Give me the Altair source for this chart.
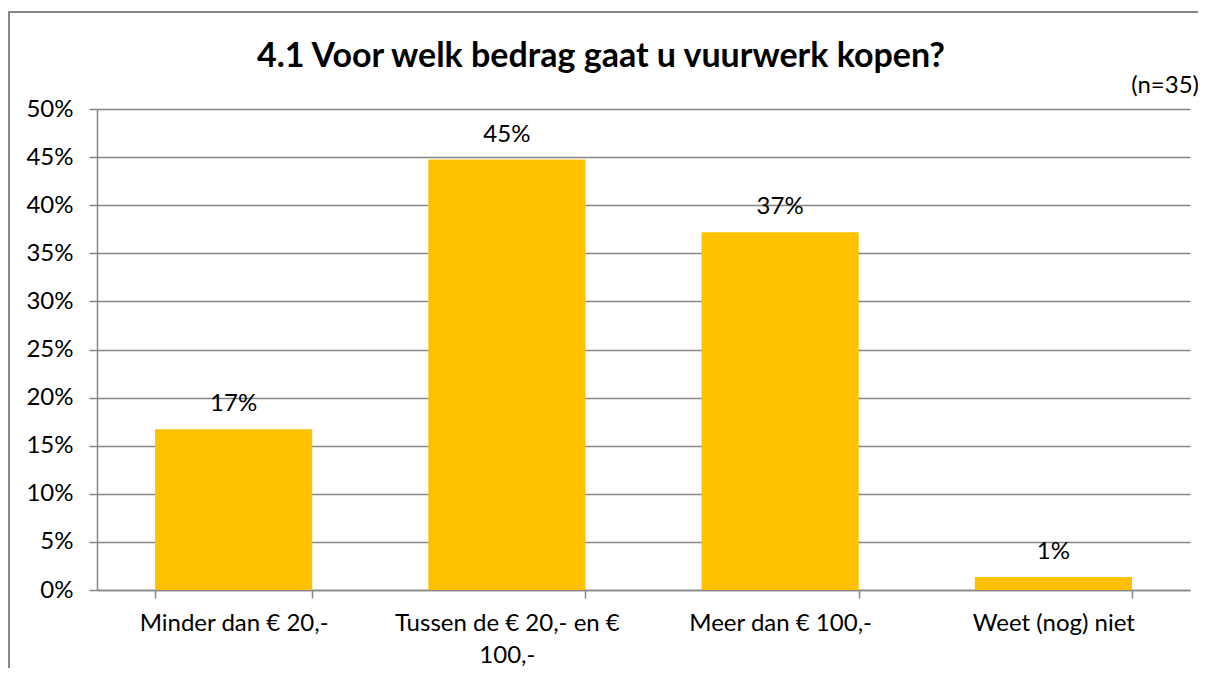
import altair as alt
import pandas as pd

categories = ["Minder dan € 20,-", "Tussen de € 20,- en € 100,-", "Meer dan € 100,-", "Weet (nog) niet"]
values = [0.167, 0.4475, 0.372, 0.0135]
y_ticks = [0, 0.05, 0.10, 0.15, 0.20, 0.25, 0.30, 0.35, 0.40, 0.45, 0.50]
title_text = "4.1 Voor welk bedrag gaat u vuurwerk kopen?"
note_text = "(n=35)"

df = pd.DataFrame({"cat": categories, "val": values})

FONT = "Lato"
GRAY = "#868686"
BAR = "#FFC000"
FS = 24

x_enc = alt.X(
    "cat:N",
    sort=categories,
    title=None,
    scale=alt.Scale(paddingInner=0.425, paddingOuter=0.2125),
    axis=alt.Axis(
        labelAngle=0,
        labelFont=FONT,
        labelFontSize=FS,
        labelColor="#000000",
        labelPadding=13,
        labelLineHeight=32,
        labelLimit=400,
        labelExpr="datum.label == 'Tussen de € 20,- en € 100,-' ? ['Tussen de € 20,- en €', '100,-'] : datum.label",
        tickBand="extent",
        tickSize=8,
        tickColor=GRAY,
        tickWidth=1.5,
        domainColor=GRAY,
        domainWidth=1.5,
        grid=False,
    ),
)

y_enc = alt.Y(
    "val:Q",
    title=None,
    scale=alt.Scale(domain=[0, 0.5], nice=False),
    axis=alt.Axis(
        values=y_ticks,
        format=".0%",
        labelFont=FONT,
        labelFontSize=FS,
        labelColor="#000000",
        labelPadding=16,
        tickSize=8,
        tickColor=GRAY,
        tickWidth=1.5,
        domainColor=GRAY,
        domainWidth=1.5,
        grid=True,
        gridColor=GRAY,
        gridWidth=1.5,
    ),
)

base = alt.Chart(df)

bars = base.mark_bar(color=BAR).encode(x=x_enc, y=y_enc)

labels = base.mark_text(
    font=FONT, fontSize=FS, color="#000000", baseline="alphabetic", dy=-18
).encode(
    x=alt.X("cat:N", sort=categories),
    y="val:Q",
    text=alt.Text("val:Q", format=".0%"),
)

title_df = pd.DataFrame({"t": [title_text]})
title_mark = alt.Chart(title_df).mark_text(
    font=FONT, fontSize=34, fontWeight="bold", color="#000000",
    align="center", baseline="middle"
).encode(x=alt.value(504), y=alt.value(-52), text="t:N")

note_df = pd.DataFrame({"t": [note_text]})
note_mark = alt.Chart(note_df).mark_text(
    font=FONT, fontSize=FS, color="#000000", align="right", baseline="middle"
).encode(x=alt.value(1102), y=alt.value(-23), text="t:N")

frame = alt.Chart(title_df).mark_rect(
    fill=None, stroke=GRAY, strokeWidth=2, clip=False
).encode(
    x=alt.value(-88), x2=alt.value(1130), y=alt.value(-97), y2=alt.value(640)
)

chart = alt.layer(frame, bars, labels, title_mark, note_mark).properties(
    width=1093,
    height=481,
    autosize=alt.AutoSizeParams(type="none"),
    padding={"left": 89, "top": 101, "right": 8, "bottom": 78},
    background="#ffffff",
).configure_view(stroke=None)

chart.save("out.html", embed_options={"renderer": "svg", "actions": False})
